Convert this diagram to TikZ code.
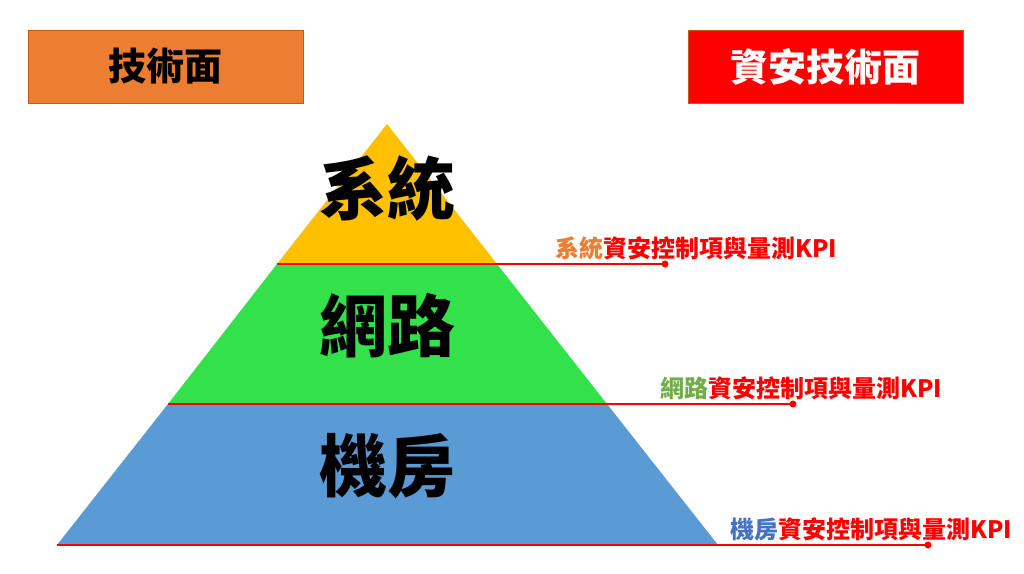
\documentclass[tikz,border=0pt]{standalone}
\usepackage{fontspec}
\newfontfamily\cjk{Noto Sans CJK TC}
\definecolor{boxorange}{HTML}{ED7D31}
\definecolor{boxborder}{HTML}{C55A11}
\definecolor{layeryellow}{HTML}{FFC000}
\definecolor{layergreen}{HTML}{33E24A}
\definecolor{layerblue}{HTML}{5B9BD5}
\definecolor{txtorange}{HTML}{ED7D31}
\definecolor{txtgreen}{HTML}{70AD47}
\definecolor{txtblue}{HTML}{4472C4}
\definecolor{kred}{HTML}{FF0000}
\tikzset{
  headbox/.style={draw=boxborder, line width=0.6pt, minimum width=275pt, minimum height=73pt, inner sep=0pt, font=\cjk\bfseries\fontsize{38}{40}\selectfont},
  bigtext/.style={font=\cjk\bfseries\fontsize{68}{70}\selectfont, text=black, inner sep=0pt},
  kpiline/.style={draw=kred, line width=1.6pt},
  kpidot/.style={circle, fill=kred, inner sep=0pt, minimum size=7pt},
  kpitext/.style={anchor=south west, inner sep=0pt, font=\cjk\bfseries\fontsize{24}{26}\selectfont, text=kred}
}
\begin{document}
\begin{tikzpicture}[x=1pt,y=1pt]
\useasboundingbox (0,0) rectangle (1024,573);
\fill[white] (0,0) rectangle (1024,573);
% boxes
\node[headbox, fill=boxorange, text=black] (tech) at (165.5,506.5) {技術面};
\node[headbox, fill=kred, text=white] (sectech) at (825.5,506.5) {資安技術面};
% pyramid coordinates
\coordinate (apex) at (387,449);
\coordinate (l1) at (277,309);
\coordinate (r1) at (497,309);
\coordinate (l2) at (168,169);
\coordinate (r2) at (607,169);
\coordinate (l3) at (57,28);
\coordinate (r3) at (718,28);
\fill[layeryellow] (apex) -- (r1) -- (l1) -- cycle;
\fill[layergreen] (l1) -- (r1) -- (r2) -- (l2) -- cycle;
\fill[layerblue] (l2) -- (r2) -- (r3) -- (l3) -- cycle;
% layer names
\node[bigtext] (sys) at (387,385) {系統};
\node[bigtext] (net) at (387,247) {網路};
\node[bigtext] (room) at (387,107) {機房};
% kpi lines
\node[kpidot] (d1) at (665,309) {};
\node[kpidot] (d2) at (793,169) {};
\node[kpidot] (d3) at (928,28) {};
\draw[kpiline] (l1) -- (d1.center);
\draw[kpiline] (l2) -- (d2.center);
\draw[kpiline] (l3) -- (d3.center);
% kpi labels
\node[kpitext] (k1) at (555,313) {\textcolor{txtorange}{系統}資安控制項與量測KPI};
\node[kpitext] (k2) at (660,173) {\textcolor{txtgreen}{網路}資安控制項與量測KPI};
\node[kpitext] (k3) at (730,32) {\textcolor{txtblue}{機房}資安控制項與量測KPI};
\end{tikzpicture}
\end{document}
